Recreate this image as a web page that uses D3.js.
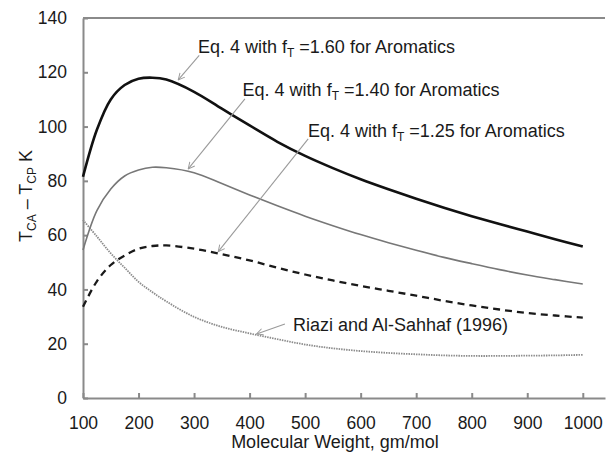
<!DOCTYPE html>
<html>
<head>
<meta charset="utf-8">
<script src="https://cdn.jsdelivr.net/npm/d3@7"></script>
<style>
  body { margin: 0; background: #fff; }
  svg { display: block; font-family: "Liberation Sans", Arial, sans-serif; }
  .axis path, .axis line { stroke: #8a8a8a; stroke-width: 2; }
  .axis text { font-size: 17.5px; fill: #1a1a1a; font-family: "Liberation Sans", Arial, sans-serif; }
  .ann { font-size: 18px; fill: #1a1a1a; }
</style>
</head>
<body>
<svg id="chart" width="606" height="456"></svg>
<script>
// Molecular weight grid (gm/mol)
const mw = [100, 125, 150, 175, 200, 225, 250, 300, 350, 400, 450, 500, 550, 600, 650, 700, 750, 800, 850, 900, 950, 1000];

// T_CA - T_CP (K)
const ft160 = [81.5, 98.8, 110, 115.3, 117.6, 118, 117.3, 112.8, 106.6, 100.4, 94.4, 89.2, 84.7, 80.6, 76.9, 73.4, 70.1, 67, 64.1, 61.3, 58.5, 55.8];
const ft140 = [54.5, 69, 77, 81.8, 84, 85, 84.8, 83, 79, 74.8, 70.8, 67, 63.5, 60.2, 57.2, 54.4, 51.8, 49.5, 47.3, 45.3, 43.6, 42];
const ft125 = [33.6, 43, 49, 52.5, 55, 56, 56.2, 55, 53, 50.7, 48, 45.5, 43.3, 41.3, 39.5, 37.7, 35.8, 34.1, 32.6, 31.3, 30.4, 29.6];
const riazi = [65.6, 59.5, 53.3, 48, 42.8, 39, 35.6, 29.9, 26.2, 23.8, 21.7, 19.7, 18.3, 17.3, 16.6, 16.1, 15.7, 15.5, 15.5, 15.6, 15.7, 15.9];

const xTicks = [100, 200, 300, 400, 500, 600, 700, 800, 900, 1000];
const yTicks = [0, 20, 40, 60, 80, 100, 120, 140];

// annotation labels: text anchor and arrow (from -> tip), in data units
const annLabels = ["1.60", "1.40", "1.25"];
const annText = [[307, 127.2], [387.4, 111.3], [505, 96.3]];
const annFrom = [[309.3, 126.2], [391.6, 110.2], [505.5, 95.5]];
const annTip = [[271.5, 117.2], [289.5, 84.4], [343.5, 53.9]];
const riaziText = [478, 24.7];
const riaziFrom = [463.6, 27.3];
const riaziTip = [412.6, 23.6];

const svg = d3.select("#chart");
const x = d3.scaleLinear().domain([100, 1040]).range([83, 605]);
const y = d3.scaleLinear().domain([0, 140]).range([398, 18]);

// arrowhead
svg.append("defs").append("marker")
  .attr("id", "arr").attr("viewBox", "0 0 10 10")
  .attr("refX", 9).attr("refY", 5)
  .attr("markerWidth", 8).attr("markerHeight", 8)
  .attr("markerUnits", "userSpaceOnUse")
  .attr("orient", "auto")
  .append("path").attr("d", "M1,1 L9,5 L1,9")
  .attr("fill", "none").attr("stroke", "#9a9a9a").attr("stroke-width", 1.2);

/* ---------- axes ---------- */
svg.append("g").attr("class", "axis")
  .attr("transform", `translate(0,${y(0)})`)
  .call(d3.axisBottom(x).tickValues(xTicks).tickFormat(d3.format("d"))
    .tickSizeInner(-5).tickSizeOuter(0).tickPadding(19))
  .selectAll("text").attr("dy", "0.71em");

svg.append("g").attr("class", "axis")
  .attr("transform", `translate(${x(100)},0)`)
  .call(d3.axisLeft(y).tickValues(yTicks).tickSizeInner(-5).tickSizeOuter(0).tickPadding(16));

// top border of plot area
svg.append("line")
  .attr("x1", x(100)).attr("x2", x(1040))
  .attr("y1", y(140)).attr("y2", y(140))
  .attr("stroke", "#8a8a8a").attr("stroke-width", 2);

svg.append("text").attr("class", "ann")
  .attr("x", 335).attr("y", 448).attr("text-anchor", "middle")
  .text("Molecular Weight, gm/mol");

const yt = svg.append("text").attr("class", "ann")
  .attr("transform", "translate(32,196) rotate(-90)")
  .attr("text-anchor", "middle");
yt.append("tspan").text("T");
yt.append("tspan").attr("font-size", 12).attr("dy", 4).text("CA");
yt.append("tspan").attr("dy", -4).text(" \u2013 T");
yt.append("tspan").attr("font-size", 12).attr("dy", 4).text("CP");
yt.append("tspan").attr("dy", -4).text("  K");

/* ---------- curves ---------- */
const line = d3.line().x((d, i) => x(mw[i])).y(d => y(d)).curve(d3.curveCatmullRom.alpha(0.5));

svg.append("path").datum(riazi).attr("d", line)
  .attr("fill", "none").attr("stroke", "#8c8c8c").attr("stroke-width", 1.8)
  .attr("stroke-dasharray", "1.5,1");
svg.append("path").datum(ft125).attr("d", line)
  .attr("fill", "none").attr("stroke", "#1a1a1a").attr("stroke-width", 2.3)
  .attr("stroke-dasharray", "7,5");
svg.append("path").datum(ft140).attr("d", line)
  .attr("fill", "none").attr("stroke", "#777").attr("stroke-width", 1.6);
svg.append("path").datum(ft160).attr("d", line)
  .attr("fill", "none").attr("stroke", "#111").attr("stroke-width", 2.6);

/* ---------- annotations ---------- */
annLabels.forEach((lab, i) => {
  svg.append("line")
    .attr("x1", x(annFrom[i][0])).attr("y1", y(annFrom[i][1]))
    .attr("x2", x(annTip[i][0])).attr("y2", y(annTip[i][1]))
    .attr("stroke", "#9a9a9a").attr("stroke-width", 1.1)
    .attr("marker-end", "url(#arr)");
  const t = svg.append("text").attr("class", "ann")
    .attr("x", x(annText[i][0])).attr("y", y(annText[i][1]));
  t.append("tspan").text("Eq. 4 with f");
  t.append("tspan").attr("font-size", 12).attr("dy", 4).text("T");
  t.append("tspan").attr("dy", -4).text(" =" + lab + " for Aromatics");
});

svg.append("line")
  .attr("x1", x(riaziFrom[0])).attr("y1", y(riaziFrom[1]))
  .attr("x2", x(riaziTip[0])).attr("y2", y(riaziTip[1]))
  .attr("stroke", "#9a9a9a").attr("stroke-width", 1.1)
  .attr("marker-end", "url(#arr)");
svg.append("text").attr("class", "ann")
  .attr("x", x(riaziText[0])).attr("y", y(riaziText[1]))
  .text("Riazi and Al-Sahhaf (1996)");
</script>
</body>
</html>
